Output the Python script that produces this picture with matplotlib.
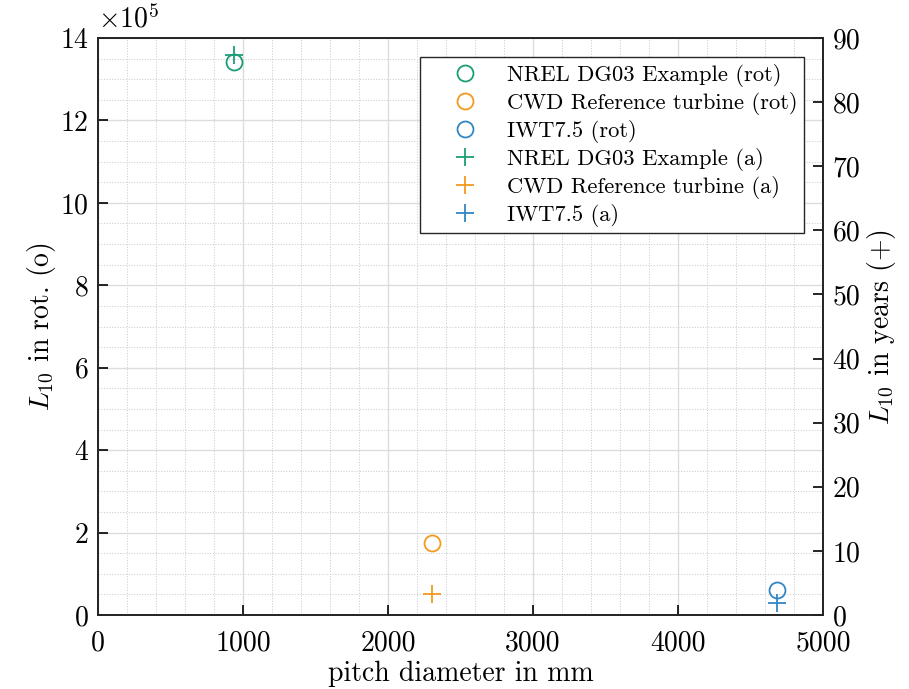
import matplotlib
matplotlib.use("Agg")
import matplotlib.pyplot as plt
from matplotlib.ticker import MultipleLocator

plt.rcParams['font.family'] = ['cmr10', 'DejaVu Serif']
plt.rcParams['mathtext.fontset'] = 'cm'
plt.rcParams['axes.formatter.use_mathtext'] = True

# data
turbines = ["NREL DG03 Example", "CWD Reference turbine", "IWT7.5"]
pitch_diameter = [938, 2305, 4683]          # mm
l10_rot = [13.42e5, 1.75e5, 0.60e5]         # rotations
l10_years = [87.3, 3.2, 1.9]                # years
colors = ["#1b9e77", "#f39a1e", "#3186c4"]

x_ticks = [0, 1000, 2000, 3000, 4000, 5000]
left_ticks = [0, 2e5, 4e5, 6e5, 8e5, 10e5, 12e5, 14e5]
left_labels = ["0", "2", "4", "6", "8", "10", "12", "14"]
right_ticks = [0, 10, 20, 30, 40, 50, 60, 70, 80, 90]

fig = plt.figure(figsize=(9.09, 6.89), dpi=100)
ax = fig.add_axes([0.1078, 0.1074, 0.7976, 0.8374])
ax2 = ax.twinx()

handles = []
for t, x, r, c in zip(turbines, pitch_diameter, l10_rot, colors):
    h, = ax.plot([x], [r], linestyle='none', marker='o', markersize=11.5,
                 markerfacecolor='none', markeredgecolor=c, markeredgewidth=1.3,
                 label=f"{t} (rot)")
    handles.append(h)
for t, x, a, c in zip(turbines, pitch_diameter, l10_years, colors):
    h, = ax2.plot([x], [a], linestyle='none', marker='+', markersize=13,
                  markeredgecolor=c, markeredgewidth=1.3, label=f"{t} (a)")
    handles.append(h)

ax.set_xlim(0, 5000)
ax.set_ylim(0, 14e5)
ax2.set_ylim(0, 90)
ax.set_xticks(x_ticks)
ax.set_xticklabels([str(v) for v in x_ticks])
ax.set_yticks(left_ticks)
ax.set_yticklabels(left_labels)
ax2.set_yticks(right_ticks)
ax2.set_yticklabels([str(v) for v in right_ticks])
ax.xaxis.set_minor_locator(MultipleLocator(200))
ax.yaxis.set_minor_locator(MultipleLocator(0.5e5))

ax.grid(True, which='major', color='#dcdcdc', linewidth=1.0, linestyle='-')
ax.grid(True, which='minor', color='#cfcfcf', linewidth=0.7, linestyle=(0, (1.2, 1.6)))
ax.set_axisbelow(True)

for a in (ax, ax2):
    for s in a.spines.values():
        s.set_linewidth(1.3)
        s.set_color('#262626')
ax.tick_params(which='major', direction='in', length=7, width=1.2, labelsize=20, pad=7)
ax.tick_params(axis='x', pad=11)
ax.tick_params(which='minor', length=0)
ax.tick_params(axis='x', top=False)
ax2.tick_params(which='major', direction='in', length=7, width=1.2, labelsize=20, pad=7)
ax2.tick_params(which='minor', length=0)

ax.set_xlabel("pitch diameter in mm", fontsize=20, labelpad=3)
ax.set_ylabel(r"$L_{10}$ in rot. (o)", fontsize=20, labelpad=2)
ax2.set_ylabel(r"$L_{10}$ in years (+)", fontsize=20, labelpad=3)

ax.text(0.0, 1.008, r"$\times10^5$", transform=ax.transAxes, fontsize=20,
        ha='left', va='bottom')

leg = ax2.legend(handles=handles, loc='upper right', bbox_to_anchor=(0.974, 0.967),
                 fontsize=16.2, frameon=True, fancybox=False, framealpha=1,
                 edgecolor='#262626', borderpad=0.3, labelspacing=0.22,
                 handlelength=3.35, handletextpad=0.2, borderaxespad=0)
leg.get_frame().set_linewidth(1.0)

fig.savefig("out.png", dpi=100)
